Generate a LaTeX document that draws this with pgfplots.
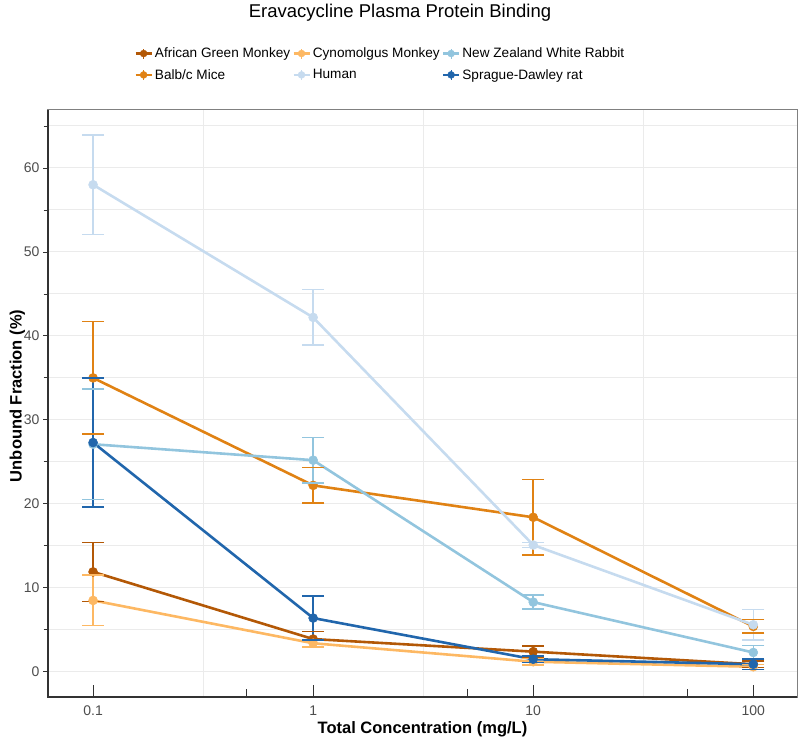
\documentclass[border=0pt]{standalone}
\usepackage{fontspec}
\setmainfont{Liberation Sans}
\usepackage{pgfplots}
\pgfplotsset{compat=1.18}
\definecolor{cAGM}{HTML}{B35806}
\definecolor{cBalb}{HTML}{E08214}
\definecolor{cCyno}{HTML}{FDB863}
\definecolor{cHuman}{HTML}{C6DBEF}
\definecolor{cNZ}{HTML}{92C5DE}
\definecolor{cSD}{HTML}{2166AC}
\definecolor{gridc}{HTML}{EBEBEB}
\definecolor{boxc}{HTML}{808080}
\definecolor{axc}{HTML}{333333}
\definecolor{tickc}{HTML}{4D4D4D}
\pgfplotsset{
  ser/.style={color=#1, line width=2.6pt, mark=*, mark size=4.5pt,
    mark options={solid, line width=0.5pt}},
  err/.style={color=#1, line width=1.5pt, mark=-, mark size=11pt,
    mark options={solid, line width=1.5pt}, unbounded coords=jump},
  leg/.style={color=#1, legend image code/.code={
    \draw[line width=2.6pt] (0pt,0pt) -- (16pt,0pt);
    \fill (8pt,0pt) circle (3.5pt);
    \draw[line width=1.2pt] (8pt,-5pt) -- (8pt,5pt);}}
}
\begin{document}
\begin{tikzpicture}
\useasboundingbox (-48pt,-45pt) rectangle (752pt,697pt);
\begin{axis}[
  at={(0pt,0pt)}, anchor=south west,
  scale only axis, width=749pt, height=587pt,
  xmode=log, xmin=0.0624, xmax=158, ymin=-3, ymax=66.9,
  xtick=\empty,
  extra x ticks={0.1,1,10,100}, extra x tick labels={0.1,1,10,100},
  extra x tick style={major tick length=12pt, grid=none, xtick align=inside},
  minor xtick={0.07,0.08,0.09,0.2,0.3,0.4,0.6,0.7,0.8,0.9,2,3,4,6,7,8,9,20,30,40,60,70,80,90},
  ytick={0,10,...,60}, minor ytick={5,15,...,65},
  ymajorgrids, yminorgrids,
  grid style={gridc, line width=1pt},
  xtick pos=bottom, ytick pos=left,
  xtick align=inside, ytick align=outside,
  major tick length=5pt, minor tick length=4.5pt,
  tick style={axc, line width=0.8pt},
  axis line style={boxc, line width=1pt},
  /pgf/number format/assume math mode=true,
  ticklabel style={font=\fontsize{14}{16}\selectfont, color=tickc},
  xticklabel style={yshift=-5pt},
  xlabel={Total Concentration (mg/L)},
  ylabel={Unbound Fraction (\%)},
  label style={font=\bfseries\fontsize{16.5}{18}\selectfont},
  xlabel style={at={(axis description cs:0.5,-0.036)}, anchor=north},
  ylabel style={at={(axis description cs:-0.041,0.513)}, anchor=center, rotate=0},
  legend columns=3,
  legend cell align=left,
  legend style={draw=none, fill=none, font=\fontsize{13.6}{16}\selectfont,
    at={(axis description cs:0.111,1.113)}, anchor=north west,
    /tikz/every even column/.append style={column sep=0pt},
    row sep=6pt},
]
\draw[gridc, line width=1pt] (axis cs:0.31623,-3) -- (axis cs:0.31623,66.9);
\draw[gridc, line width=1pt] (axis cs:3.1623,-3) -- (axis cs:3.1623,66.9);
\draw[gridc, line width=1pt] (axis cs:31.623,-3) -- (axis cs:31.623,66.9);
\draw[axc, line width=0.8pt] (axis cs:0.5,-3) -- ++(0pt,8pt);
\draw[axc, line width=0.8pt] (axis cs:5,-3) -- ++(0pt,8pt);
\draw[axc, line width=0.8pt] (axis cs:50,-3) -- ++(0pt,8pt);

\addlegendimage{leg=cAGM}\addlegendentry{African Green Monkey}
\addlegendimage{leg=cCyno}\addlegendentry{Cynomolgus Monkey}
\addlegendimage{leg=cNZ}\addlegendentry{New Zealand White Rabbit}
\addlegendimage{leg=cBalb}\addlegendentry{Balb/c Mice}
\addlegendimage{leg=cHuman}\addlegendentry{Human}
\addlegendimage{leg=cSD}\addlegendentry{Sprague-Dawley rat}

% African Green Monkey
\addplot[forget plot, err=cAGM] coordinates {
 (0.1,8.4) (0.1,15.4) (0.1,nan) (1,3.0) (1,4.8) (1,nan)
 (10,1.7) (10,3.1) (10,nan) (100,0.5) (100,1.3)};
\addplot[forget plot, ser=cAGM] coordinates {
 (0.1,11.9) (1,3.9) (10,2.4) (100,0.9)};
% Balb/c Mice
\addplot[forget plot, err=cBalb] coordinates {
 (0.1,28.3) (0.1,41.7) (0.1,nan) (1,20.1) (1,24.3) (1,nan)
 (10,13.9) (10,22.9) (10,nan) (100,4.6) (100,6.2)};
\addplot[forget plot, ser=cBalb] coordinates {
 (0.1,35.0) (1,22.2) (10,18.4) (100,5.4)};
% Cynomolgus Monkey
\addplot[forget plot, err=cCyno] coordinates {
 (0.1,5.5) (0.1,11.5) (0.1,nan) (1,2.95) (1,3.85) (1,nan)
 (10,0.8) (10,1.6) (10,nan) (100,0.3) (100,0.9)};
\addplot[forget plot, ser=cCyno] coordinates {
 (0.1,8.5) (1,3.4) (10,1.2) (100,0.6)};
% Human
\addplot[forget plot, err=cHuman] coordinates {
 (0.1,52.1) (0.1,63.9) (0.1,nan) (1,38.9) (1,45.5) (1,nan)
 (10,14.8) (10,15.4) (10,nan) (100,3.8) (100,7.4)};
\addplot[forget plot, ser=cHuman] coordinates {
 (0.1,58.0) (1,42.2) (10,15.1) (100,5.6)};
% New Zealand White Rabbit
\addplot[forget plot, err=cNZ] coordinates {
 (0.1,20.5) (0.1,33.7) (0.1,nan) (1,22.5) (1,27.9) (1,nan)
 (10,7.45) (10,9.15) (10,nan) (100,1.45) (100,3.15)};
\addplot[forget plot, ser=cNZ] coordinates {
 (0.1,27.1) (1,25.2) (10,8.3) (100,2.3)};
% Sprague-Dawley rat
\addplot[forget plot, err=cSD] coordinates {
 (0.1,19.6) (0.1,35.0) (0.1,nan) (1,3.8) (1,9.0) (1,nan)
 (10,1.1) (10,1.9) (10,nan) (100,0.3) (100,1.5)};
\addplot[forget plot, ser=cSD] coordinates {
 (0.1,27.3) (1,6.4) (10,1.5) (100,0.9)};
\end{axis}
\draw[axc, line width=1.2pt] (0pt,587pt) -- (0pt,0pt) -- (749pt,0pt);
\node[font=\fontsize{18.5}{21}\selectfont] at (352pt,684pt) {Eravacycline Plasma Protein Binding};
\end{tikzpicture}
\end{document}
